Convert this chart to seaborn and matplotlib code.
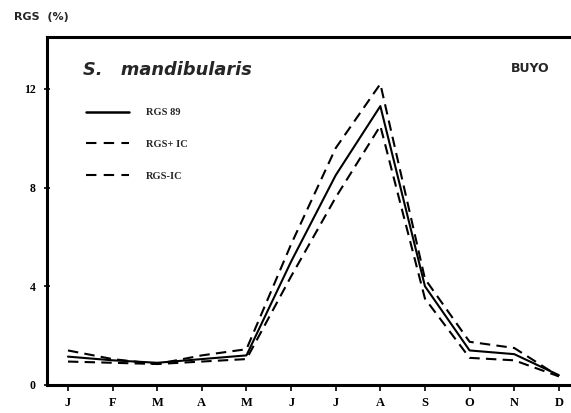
import numpy as np
import pandas as pd
import matplotlib
matplotlib.use("Agg")
import matplotlib.pyplot as plt
import seaborn as sns
from matplotlib.lines import Line2D

months = ["J", "F", "M", "A", "M", "J", "J", "A", "S", "O", "N", "D"]
rgs89 = [1.15, 1.0, 0.9, 1.05, 1.2, 5.0, 8.5, 11.3, 4.0, 1.4, 1.25, 0.4]
rgs_plus_ic = [1.4, 1.05, 0.85, 1.2, 1.45, 5.7, 9.6, 12.2, 4.3, 1.75, 1.5, 0.35]
rgs_minus_ic = [0.95, 0.9, 0.85, 0.95, 1.05, 4.4, 7.6, 10.5, 3.5, 1.1, 1.0, 0.35]
series_names = ["RGS 89", "RGS+ IC", "RGS-IC"]
yticks = [0, 4, 8, 12]

sns.set_style("white")
plt.rcParams["font.family"] = ["Liberation Serif", "DejaVu Serif"]

idx = np.arange(len(months))
df = pd.concat([
    pd.DataFrame({"m": idx, "v": vals, "s": name})
    for name, vals in zip(series_names, [rgs89, rgs_plus_ic, rgs_minus_ic])
])

fig = plt.figure(figsize=(5.71, 4.13), dpi=100)
ax = fig.add_axes([0.0823, 0.0678, 0.93, 0.8426])

sns.lineplot(data=df, x="m", y="v", hue="s", style="s",
             palette={n: "black" for n in series_names},
             dashes={"RGS 89": "", "RGS+ IC": (5, 3), "RGS-IC": (5, 3)},
             linewidth=1.5, legend=False, ax=ax)

ax.set_xlim(-0.47, 11.43)
ax.set_ylim(0, 14.1)
ax.set_xticks(idx)
ax.set_xticklabels(months, fontsize=9, fontweight="bold")
ax.set_yticks(yticks)
ax.set_yticklabels([str(t) for t in yticks], fontsize=8.5, fontweight="bold")
ax.set_xlabel("")
ax.set_ylabel("")
for side in ["left", "bottom", "top"]:
    ax.spines[side].set_linewidth(2.2)
    ax.spines[side].set_color("black")
ax.spines["right"].set_visible(False)
ax.tick_params(axis="x", direction="out", length=4, width=1.2, pad=5, colors="black")
ax.tick_params(axis="y", direction="inout", length=4, width=1.2, pad=6, colors="black")
ax.tick_params(bottom=True, left=True)

handles = [
    Line2D([], [], color="black", lw=1.8),
    Line2D([], [], color="black", lw=1.5, dashes=(5, 3.5)),
    Line2D([], [], color="black", lw=1.5, dashes=(5, 3.5)),
]
ax.legend(handles, series_names, loc="upper left", bbox_to_anchor=(0.055, 0.823),
          frameon=False, handlelength=4.2, handletextpad=1.6, labelspacing=2.15,
          prop={"size": 7.5, "weight": "bold"})

ax.text(0.068, 0.905, "S.   mandibularis", transform=ax.transAxes,
        fontsize=12.8, fontweight="bold", fontstyle="italic",
        family=["DejaVu Sans"], va="center", ha="left")
ax.text(0.873, 0.91, "BUYO", transform=ax.transAxes, fontsize=9,
        fontweight="bold", family=["DejaVu Sans"], va="center", ha="left")
fig.text(0.025, 0.958, "RGS  (%)", fontsize=8, fontweight="bold",
         family=["DejaVu Sans"], va="center", ha="left")

fig.savefig("out.png", dpi=100)
